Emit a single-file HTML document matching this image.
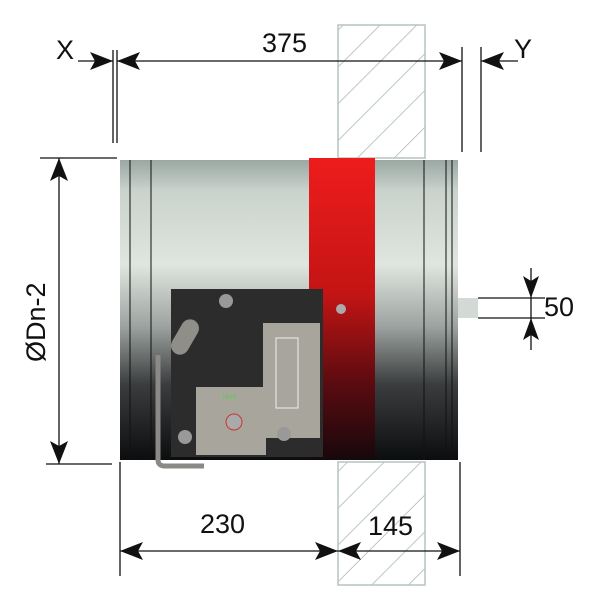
<!DOCTYPE html>
<html><head><style>
body{margin:0;width:600px;height:600px;background:#fff;overflow:hidden}
svg{display:block}
text{font-family:"Liberation Sans",sans-serif;fill:#111}
</style></head><body>
<svg width="600" height="600" viewBox="0 0 600 600">
<defs>
<pattern id="h" width="26" height="26" patternUnits="userSpaceOnUse" patternTransform="rotate(45)">
<line x1="0" y1="0" x2="0" y2="26" stroke="#a9bab5" stroke-width="1.6"/>
</pattern>
<linearGradient id="cyl" x1="0" y1="0" x2="0" y2="1">
<stop offset="0" stop-color="#9aa7a2"/><stop offset="0.1" stop-color="#c9d2cc"/>
<stop offset="0.35" stop-color="#dfe6df"/><stop offset="0.55" stop-color="#9ea5a2"/>
<stop offset="0.75" stop-color="#3a3c3d"/><stop offset="1" stop-color="#0c0d0f"/>
</linearGradient>
<linearGradient id="red" x1="0" y1="0" x2="0" y2="1">
<stop offset="0" stop-color="#ee1c1c"/><stop offset="0.45" stop-color="#c41414"/>
<stop offset="0.75" stop-color="#5a0b10"/><stop offset="1" stop-color="#18080c"/>
</linearGradient>
</defs>
<rect x="338" y="25" width="87" height="133" fill="url(#h)" stroke="#b5c4c0" stroke-width="1.5"/>
<rect x="338" y="462" width="87" height="123" fill="url(#h)" stroke="#b5c4c0" stroke-width="1.5"/>
<rect x="120" y="160" width="338" height="300" fill="url(#cyl)"/>
<g stroke="#111" stroke-width="1">
<line x1="130" y1="160" x2="130" y2="460"/><line x1="151" y1="160" x2="151" y2="460"/>
<line x1="424" y1="160" x2="424" y2="460"/><line x1="446" y1="160" x2="446" y2="460"/>
<line x1="452" y1="160" x2="452" y2="460"/>
</g>
<rect x="309" y="158" width="66" height="301" fill="url(#red)"/>
<circle cx="341" cy="309" r="5" fill="#aaa"/>
<rect x="458" y="298" width="20" height="20" fill="#d3dad6"/>
<rect x="171" y="289" width="152" height="168" fill="#2c2c2d"/>
<rect x="263" y="323" width="57" height="115" fill="#a8a59c"/>
<rect x="196" y="387" width="70" height="68" fill="#a8a59c"/>
<rect x="276" y="338" width="22" height="70" fill="none" stroke="#eee" stroke-width="1"/>
<circle cx="226" cy="301" r="7" fill="#999"/>
<rect x="176" y="318" width="18" height="38" rx="9" fill="#8f8e88" transform="rotate(30 185 337)"/>
<circle cx="234" cy="422" r="8" fill="#aaa" stroke="#c33" stroke-width="1"/>
<circle cx="185" cy="437" r="7" fill="#999"/>
<circle cx="284" cy="434" r="7" fill="#999"/>
<text x="222" y="399" font-size="6" style="fill:#5c5">1$VS</text>
<path d="M158,355 V460 Q158,466 165,466 H204" fill="none" stroke="#8b8a86" stroke-width="5"/>
<g stroke="#111" stroke-width="1.3" fill="#111">
<line x1="113" y1="50" x2="113" y2="143"/><line x1="117" y1="50" x2="117" y2="143"/>
<line x1="462" y1="47" x2="462" y2="152"/><line x1="481" y1="47" x2="481" y2="152"/>
<line x1="78" y1="61" x2="113" y2="61"/><line x1="117" y1="61" x2="462" y2="61"/><line x1="481" y1="61" x2="518" y2="61"/>
<polygon points="113,61 90,52 95,61 90,70" stroke="none"/>
<polygon points="117,61 140,52 135,61 140,70" stroke="none"/>
<polygon points="462,61 439,52 444,61 439,70" stroke="none"/>
<polygon points="481,61 504,52 499,61 504,70" stroke="none"/>
<line x1="40" y1="158" x2="117" y2="158"/><line x1="46" y1="464" x2="112" y2="464"/>
<line x1="59" y1="158" x2="59" y2="464"/>
<polygon points="59,158 50,181 59,176 68,181" stroke="none"/>
<polygon points="59,464 50,441 59,446 68,441" stroke="none"/>
<line x1="478" y1="298" x2="545" y2="298"/><line x1="478" y1="318" x2="545" y2="318"/>
<line x1="531" y1="268" x2="531" y2="350"/>
<polygon points="531,298 523,276 531,281 539,276" stroke="none"/>
<polygon points="531,318 523,340 531,335 539,340" stroke="none"/>
<line x1="120" y1="462" x2="120" y2="576"/><line x1="460" y1="462" x2="460" y2="576"/>
<line x1="120" y1="551" x2="460" y2="551"/>
<polygon points="120,551 143,542 138,551 143,560" stroke="none"/>
<polygon points="338,551 315,542 320,551 315,560" stroke="none"/>
<polygon points="338,551 361,542 356,551 361,560" stroke="none"/>
<polygon points="460,551 437,542 442,551 437,560" stroke="none"/>
</g>
<text x="262" y="52" font-size="27">375</text>
<text x="56" y="59" font-size="27">X</text>
<text x="514" y="58" font-size="27">Y</text>
<text x="544" y="316" font-size="27">50</text>
<text x="200" y="533" font-size="27">230</text>
<text x="368" y="535" font-size="27">145</text>
<text x="0" y="0" font-size="27" transform="translate(45,362) rotate(-90)">ØDn-2</text>
</svg>
</body></html>
